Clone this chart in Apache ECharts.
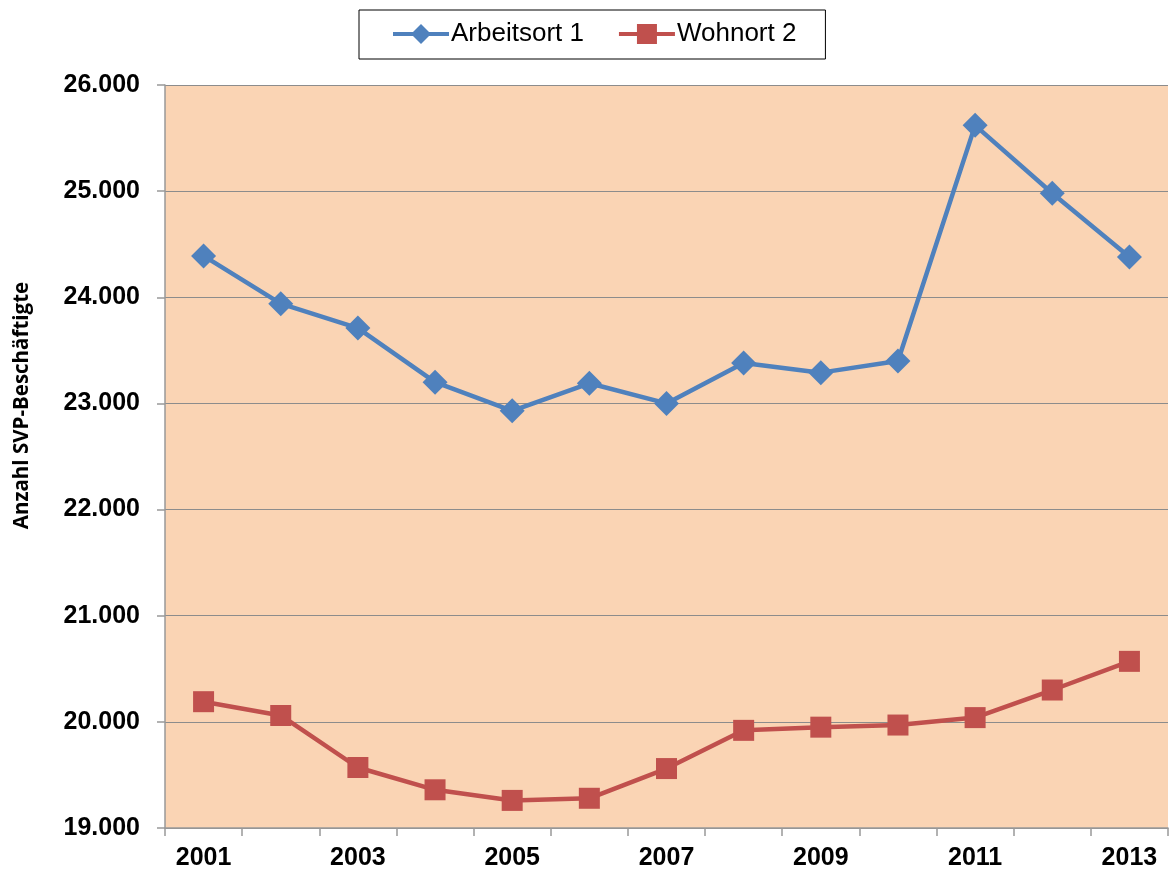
<!DOCTYPE html>
<html>
<head>
<meta charset="utf-8">
<title>Anzahl SVP-Beschäftigte</title>
<script src="https://cdn.jsdelivr.net/npm/echarts@6/dist/echarts.min.js"></script>
<style>
  html, body { margin: 0; padding: 0; background: #fff; }
  #chart { width: 1171px; height: 874px; }
</style>
</head>
<body>
<div id="chart"></div>
<script>
const years = ['2001', '2002', '2003', '2004', '2005', '2006', '2007', '2008', '2009', '2010', '2011', '2012', '2013']
const arbeitsort = [24390, 23940, 23710, 23200, 22930, 23190, 23000, 23380, 23290, 23400, 25620, 24980, 24380]
const wohnort = [20190, 20060, 19570, 19360, 19260, 19280, 19560, 19920, 19950, 19970, 20040, 20300, 20570]

const chartDom = echarts.init(document.getElementById('chart'))

// Tausenderpunkt wie im Original
function fmt(value) {
  return String(value).replace(/\B(?=(\d{3})+(?!\d))/g, '.')
}

const option = {
  animation: false,
  textStyle: { fontFamily: 'Liberation Sans, Arial, sans-serif' },
  legend: {
    left: 359,
    top: 10,
    padding: [11, 29, 12, 32],
    itemGap: 33,
    itemWidth: 56,
    itemHeight: 25,
    borderColor: '#000',
    borderWidth: 1,
    lineStyle: { width: 4 },
    textStyle: { fontSize: 26, color: '#000', padding: [0, 0, 0, -3] },
    data: ['Arbeitsort 1', 'Wohnort 2']
  },
  grid: {
    left: 165,
    right: 3,
    top: 85,
    bottom: 46,
    show: true,
    backgroundColor: '#FAD4B4',
    borderWidth: 0
  },
  xAxis: {
    type: 'category',
    data: years,
    boundaryGap: true,
    axisLine: { lineStyle: { color: '#999', width: 1.5 } },
    axisTick: { show: true, interval: 0, length: 8, lineStyle: { color: '#999', width: 1.5 } },
    axisLabel: {
      interval: 1,
      color: '#000',
      fontSize: 25,
      fontWeight: 'bold',
      margin: 18
    }
  },
  yAxis: {
    type: 'value',
    min: 19000,
    max: 26000,
    interval: 1000,
    name: 'Anzahl SVP-Beschäftigte',
    nameLocation: 'middle',
    nameGap: 132,
    nameTextStyle: {
      fontFamily: 'Open Sans, Liberation Sans, sans-serif',
      fontSize: 20.5,
      fontWeight: 'bold',
      color: '#000',
      padding: [0, 0, 0, 102]
    },
    axisLine: { show: true, lineStyle: { color: '#999', width: 1.5 } },
    axisTick: { show: true, length: 8, lineStyle: { color: '#999', width: 1.5 } },
    axisLabel: {
      color: '#000',
      fontSize: 25,
      fontWeight: 'bold',
      margin: 25,
      formatter: fmt
    },
    splitLine: { lineStyle: { color: '#8c8c8c', width: 1.2 } }
  },
  series: [
    {
      name: 'Arbeitsort 1',
      type: 'line',
      data: arbeitsort,
      symbol: 'diamond',
      symbolSize: 25,
      lineStyle: { color: '#4F81BD', width: 4.5 },
      itemStyle: { color: '#4F81BD' }
    },
    {
      name: 'Wohnort 2',
      type: 'line',
      data: wohnort,
      symbol: 'rect',
      symbolSize: 21,
      lineStyle: { color: '#C0504D', width: 4.5 },
      itemStyle: { color: '#C0504D' }
    }
  ]
}
chartDom.setOption(option)
</script>
</body>
</html>
